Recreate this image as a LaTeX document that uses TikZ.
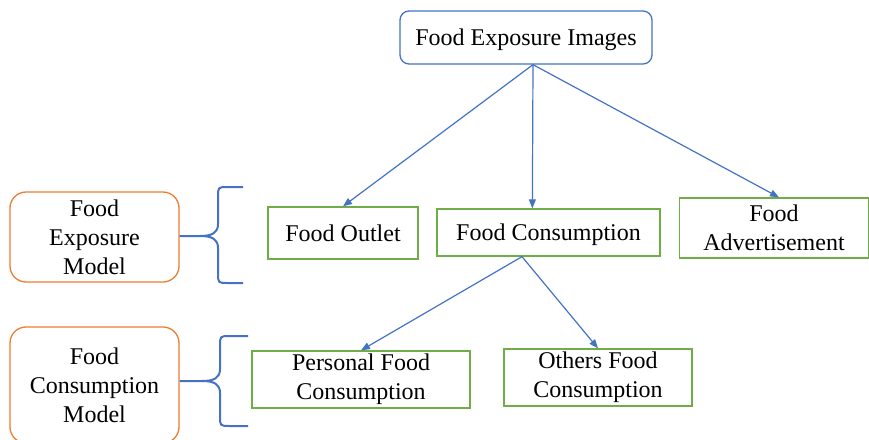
\documentclass[tikz,border=0pt]{standalone}
\usepackage{fontspec}
\IfFontExistsTF{LiberationSerif-Regular.ttf}
  {\setmainfont{LiberationSerif-Regular.ttf}}
  {\setmainfont{Liberation Serif}}
\usetikzlibrary{arrows.meta,calc}
\definecolor{boxblue}{HTML}{4472C4}
\definecolor{boxgreen}{HTML}{70AD47}
\definecolor{boxorange}{HTML}{ED7D31}
\tikzset{
  lbl/.style={font=\rmfamily\fontsize{24}{29}\selectfont, align=center, inner sep=0pt},
  oneline/.style={text height=16pt, text depth=0pt},
  topbox/.style={lbl, draw=boxblue, line width=1.3pt, rounded corners=9pt, fill=white},
  itembox/.style={lbl, draw=boxgreen, line width=1.3pt, fill=white},
  modelbox/.style={lbl, draw=boxorange, line width=1.3pt, rounded corners=16pt, fill=white},
  link/.style={draw=boxblue, line width=1.2pt, -{Triangle[length=9pt,width=7pt]}},
  bracket/.style={draw=boxblue, line width=2pt, line join=round}
}
\begin{document}
\begin{tikzpicture}[x=1pt,y=-1pt]
\useasboundingbox (0,0) rectangle (869,439);

% top node
\node[topbox, oneline, minimum width=252pt, minimum height=53pt] (fei) at (526,37.5) {Food Exposure Images};

% exposure level
\node[itembox, oneline, minimum width=150pt, minimum height=52pt] (outlet) at (343,233) {Food Outlet};
\node[itembox, oneline, minimum width=223pt, minimum height=47pt] (cons) at (548.5,232.5) {Food Consumption};
\node[itembox, minimum width=189pt, minimum height=60pt] (adv) at (774,228) {Food\\Advertisement};

% consumption level
\node[itembox, minimum width=218pt, minimum height=57pt] (pers) at (361,379.5) {Personal Food\\Consumption};
\node[itembox, minimum width=188pt, minimum height=57pt] (oth) at (598,377.5) {Others Food\\Consumption};

% model labels
\node[modelbox, minimum width=169pt, minimum height=90pt] (fem) at (94.5,237) {Food\\Exposure\\Model};
\node[modelbox, minimum width=169pt, minimum height=116pt] (fcm) at (94.5,385) {Food\\Consumption\\Model};

% connectors
\coordinate (feiout) at ($(fei.south)+(7,0)$);
\coordinate (consin) at ($(cons.north west)+(96,0)$);
\coordinate (consout) at ($(cons.south)+(-26.5,0)$);
\draw[link] (feiout) -- (outlet.north);
\draw[link] (feiout) -- (consin);
\draw[link] (feiout) -- ($(adv.north)+(5,0)$);
\draw[link] (consout) -- (pers.north);
\draw[link] (consout) -- (oth.north);

% braces
\draw[bracket] (243,187) -- (228,187) .. controls (218,187) .. (218,197)
  -- (218,224) .. controls (218,233) and (212,236) .. (200,236) -- (fem.east |- 0,236);
\draw[bracket] (243,283) -- (228,283) .. controls (218,283) .. (218,273)
  -- (218,248) .. controls (218,239) and (212,236) .. (200,236);
\draw[bracket] (248,336) -- (230,336) .. controls (220,336) .. (220,346)
  -- (220,369) .. controls (220,378) and (214,381) .. (202,381) -- (fcm.east |- 0,381);
\draw[bracket] (248,426) -- (230,426) .. controls (220,426) .. (220,416)
  -- (220,393) .. controls (220,384) and (214,381) .. (202,381);
\end{tikzpicture}
\end{document}
